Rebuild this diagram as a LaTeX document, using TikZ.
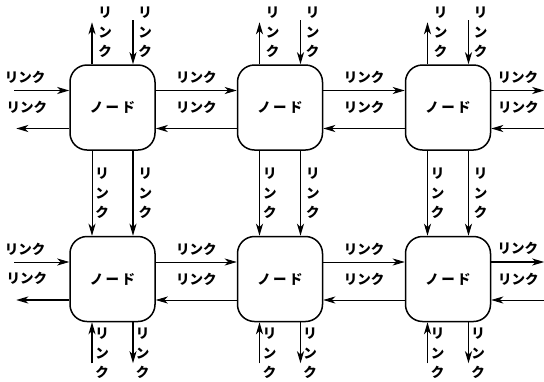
\documentclass[tikz,border=0pt]{standalone}
\usepackage{fontspec}
\newfontfamily\jpfont{Noto Sans CJK JP}
\usetikzlibrary{arrows.meta}

\begin{document}
\begin{tikzpicture}[x=1pt, y=-1pt, >={Stealth[length=12pt, width=7pt, inset=3.5pt]},
    every node/.style={font=\jpfont\bfseries\fontsize{13.5}{15}\selectfont},
    nodebox/.style={draw, line width=1.5pt, rounded corners=17pt,
      minimum width=85pt, minimum height=85pt, inner sep=0pt},
    lnk/.style={->, line width=0.8pt},
    lnkb/.style={->, line width=1.4pt},
    vlabel/.style={align=center, inner sep=0pt,
      font=\jpfont\bfseries\fontsize{13.5}{19.5}\selectfont}]

    \useasboundingbox (0,0) rectangle (544,381);

    % ノード
    \foreach \r/\y in {1/107.5, 2/279} {
      \foreach \c/\x in {1/112.5, 2/280, 3/448} {
        \node[nodebox] (n\r\c) at (\x,\y) {ノ\hspace{2.5pt}ー\hspace{2.5pt}ド};
      }
    }

    % ノード間の横方向リンク
    \foreach \r/\a/\b/\su/\sl in {1/1/2/lnk/lnkb, 1/2/3/lnkb/lnkb, 2/1/2/lnk/lnk, 2/2/3/lnk/lnk} {
      \draw[\su] ([yshift=17pt]n\r\a.east) -- ([yshift=17pt]n\r\b.west)
        node[midway, above=3pt] {リンク};
      \draw[\sl] ([yshift=-21pt]n\r\b.west) -- ([yshift=-21pt]n\r\a.east)
        node[midway, above=11pt] {リンク};
    }

    % 左右の端のリンク
    \foreach \r/\sa/\sb/\sc/\sd in {1/lnkb/lnkb/lnkb/lnkb, 2/lnk/lnkb/lnkb/lnk} {
      \coordinate (wi\r) at ([xshift=-55pt, yshift=17pt]n\r1.west);
      \coordinate (wo\r) at ([xshift=-53pt, yshift=-21pt]n\r1.west);
      \coordinate (eo\r) at ([xshift=53pt, yshift=17pt]n\r3.east);
      \coordinate (ei\r) at ([xshift=54pt, yshift=-21pt]n\r3.east);
      \draw[\sa] (wi\r) -- ([yshift=17pt]n\r1.west)
        node[pos=0.2, above=3pt] {リンク};
      \draw[\sb] ([yshift=-21pt]n\r1.west) -- (wo\r)
        node[pos=0.8, above=11pt] {リンク};
      \draw[\sc] ([yshift=17pt]n\r3.east) -- (eo\r)
        node[pos=0.5, above=3pt] {リンク};
      \draw[\sd] (ei\r) -- ([yshift=-21pt]n\r3.east)
        node[pos=0.5, above=11pt] {リンク};
    }

    % 上下の行の間のリンク
    \foreach \c/\su/\sd in {1/lnk/lnkb, 2/lnkb/lnkb, 3/lnk/lnk} {
      \draw[\su] ([xshift=-20.5pt]n1\c.south) -- ([xshift=-20.5pt]n2\c.north)
        node[midway, right=3pt, vlabel] {リ\\ン\\ク};
      \draw[\sd] ([xshift=20.5pt]n1\c.south) -- ([xshift=20.5pt]n2\c.north)
        node[midway, right=5pt, vlabel] {リ\\ン\\ク};
    }

    % 上端のリンク
    \foreach \c in {1,2,3} {
      \coordinate (tu\c) at ([xshift=-20.5pt, yshift=42pt]n1\c.north);
      \coordinate (td\c) at ([xshift=20.5pt, yshift=44pt]n1\c.north);
      \draw[lnkb] ([xshift=-20.5pt]n1\c.north) -- (tu\c);
      \draw[lnkb] (td\c) -- ([xshift=20.5pt]n1\c.north);
      \node[vlabel] (tlu\c) at ([xshift=-7.5pt, yshift=32pt]n1\c.north) {リ\\ン\\ク};
      \node[vlabel] (tld\c) at ([xshift=32.5pt, yshift=32pt]n1\c.north) {リ\\ン\\ク};
    }

    % 下端のリンク
    \foreach \c in {1,2,3} {
      \coordinate (bu\c) at ([xshift=-20.5pt, yshift=-41pt]n2\c.south);
      \coordinate (bd\c) at ([xshift=20.5pt, yshift=-41pt]n2\c.south);
      \draw[lnkb] (bu\c) -- ([xshift=-20.5pt]n2\c.south);
      \draw[lnkb] ([xshift=20.5pt]n2\c.south) -- (bd\c);
      \node[vlabel] (blu\c) at ([xshift=-10.5pt, yshift=-31pt]n2\c.south) {リ\\ン\\ク};
      \node[vlabel] (bld\c) at ([xshift=30pt, yshift=-31pt]n2\c.south) {リ\\ン\\ク};
    }

\end{tikzpicture}
\end{document}
